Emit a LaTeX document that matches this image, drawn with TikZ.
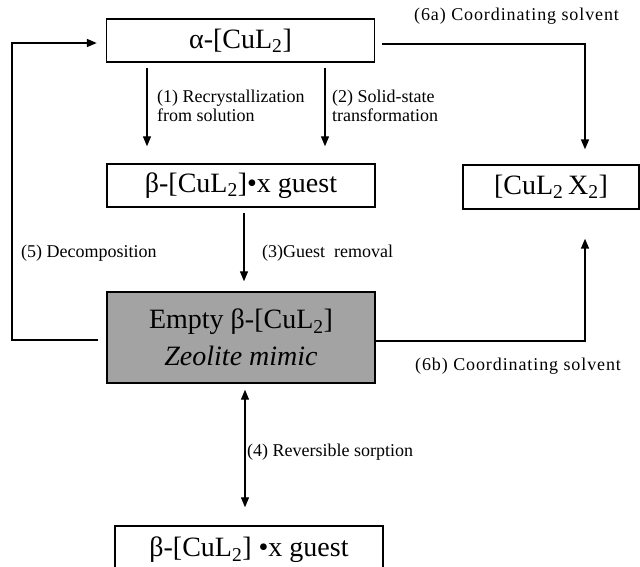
\documentclass[tikz,border=0pt]{standalone}
\usepackage{fontspec}
\setmainfont{Liberation Serif}
\usetikzlibrary{arrows.meta}
\begin{document}
\begin{tikzpicture}[x=1pt,y=-1pt,
  box/.style={draw,line width=1.4pt,minimum width=268pt,minimum height=43pt,inner sep=0pt,font=\fontsize{28}{30}\selectfont},
  lbl/.style={anchor=west,inner sep=0pt,font=\fontsize{18}{19}\selectfont,align=left},
  wide/.style={font=\fontsize{18}{19}\selectfont\addfontfeatures{LetterSpace=5}},
  tip/.tip={Triangle[length=10pt,width=8pt]},
  arr/.style={line width=1.2pt,-tip},
  ln/.style={line width=1.6pt}]
\useasboundingbox (0,0) rectangle (640,566);
\node[box] (alpha) at (240.5,40.5) {α-[CuL\textsubscript{2}]};
\node[box] (beta) at (241,185.5) {β-[CuL\textsubscript{2}]•x guest};
\node[box,minimum width=176pt,minimum height=44pt] (cux) at (551,187) {[CuL\textsubscript{2}\,X\textsubscript{2}]};
\node[box,fill=black!36,minimum height=91pt,align=center,font=\fontsize{28}{37}\selectfont] (empty) at (241,337.5) {Empty β-[CuL\textsubscript{2}]\\\textit{Zeolite mimic}};
\node[box,minimum height=48pt] (beta2) at (249,550) {β-[CuL\textsubscript{2}] •x guest};
% arrows
\draw[arr,shorten <=5pt,shorten >=17pt] (147,0 |- alpha.south) -- (147,0 |- beta.north);
\draw[arr,shorten <=5pt,shorten >=17pt] (325,0 |- alpha.south) -- (325,0 |- beta.north);
\draw[arr,shorten <=5pt,shorten >=10pt] (244,0 |- beta.south) -- (244,0 |- empty.north);
\draw[arr,tip-tip,shorten <=6pt,shorten >=18pt] (245,0 |- empty.south) -- (245,0 |- beta2.north);
\draw[arr,ln,shorten <=7pt,shorten >=15pt] (alpha.east |- 0,44) -| (585,0 |- cux.north);
\draw[arr,ln,shorten >=29pt] (empty.east |- 0,341) -| (585,0 |- cux.south);
\draw[arr,ln,shorten <=8pt,shorten >=9pt] (empty.west |- 0,340) -- (12,340) |- (alpha.west |- 0,43);
% labels
\node[lbl] (l1) at (157,106) {(1) Recrystallization\\from solution};
\node[lbl] (l2) at (332,106) {(2) Solid-state\\transformation};
\node[lbl,wide] (l6a) at (414,16) {(6a) Coordinating solvent};
\node[lbl] (l5) at (21,253) {(5) Decomposition};
\node[lbl] (l3) at (262,253) {(3)Guest\ \ removal};
\node[lbl,wide] (l6b) at (415,366) {(6b) Coordinating solvent};
\node[lbl] (l4) at (247,452) {(4) Reversible sorption};
\end{tikzpicture}
\end{document}
